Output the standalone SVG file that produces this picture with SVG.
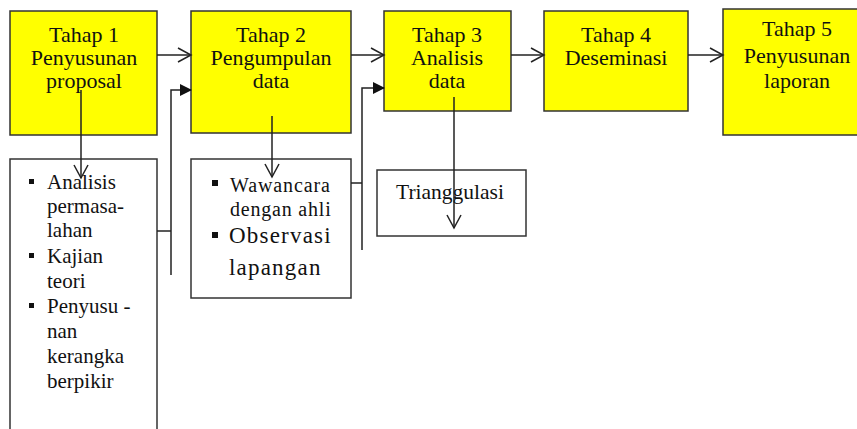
<svg xmlns="http://www.w3.org/2000/svg" width="857" height="429" viewBox="0 0 857 429">
<defs>
<style>
.stage{fill:#ffff00;stroke:#333;stroke-width:1.5}
.box{fill:#fff;stroke:#333;stroke-width:1.5}
.t{font-family:'Liberation Serif','Times New Roman','DejaVu Serif',serif;font-size:21px;fill:#111}
.h{font-size:22px}
.c{text-anchor:middle}
.ln{fill:none;stroke:#222;stroke-width:1.5}
.bul{fill:#111}
</style>
<marker id="open" markerWidth="16" markerHeight="16" refX="14" refY="8" orient="auto" markerUnits="userSpaceOnUse">
<path d="M1,1 L14,8 L1,15" fill="none" stroke="#222" stroke-width="1.5"/>
</marker>
<marker id="fill" markerWidth="14" markerHeight="14" refX="12" refY="7" orient="auto" markerUnits="userSpaceOnUse">
<path d="M1,1 L13,7 L1,13 Z" fill="#111"/>
</marker>
</defs>
<g id="stage1"><rect class="stage" x="10" y="11" width="147" height="124"/>
<text class="t h c" x="84" y="42">Tahap 1</text><text class="t h c" x="84" y="65">Penyusunan</text><text class="t h c" x="84" y="88">proposal</text></g>
<g id="stage2"><rect class="stage" x="191" y="11" width="160" height="122"/>
<text class="t h c" x="271" y="42">Tahap 2</text><text class="t h c" x="271" y="65">Pengumpulan</text><text class="t h c" x="271" y="88">data</text></g>
<g id="stage3"><rect class="stage" x="384" y="11" width="127" height="100"/>
<text class="t h c" x="447" y="42">Tahap 3</text><text class="t h c" x="447" y="65">Analisis</text><text class="t h c" x="447" y="88">data</text></g>
<g id="stage4"><rect class="stage" x="544" y="11" width="144" height="100"/>
<text class="t h c" x="616" y="42">Tahap 4</text><text class="t h c" x="616" y="65">Deseminasi</text></g>
<g id="stage5"><rect class="stage" x="723" y="9" width="150" height="126"/>
<text class="t h c" x="797" y="36">Tahap 5</text><text class="t h c" x="797" y="63">Penyusunan</text><text class="t h c" x="797" y="88">laporan</text></g>
<g id="detail1"><path class="box" d="M10,431 L10,159 L157,159 L157,431"/>
<rect class="bul" x="29" y="179" width="5" height="5"/>
<rect class="bul" x="29" y="253" width="5" height="5"/>
<rect class="bul" x="29" y="303" width="5" height="5"/>
<text class="t" x="47" y="189">Analisis</text><text class="t" x="47" y="213">permasa-</text><text class="t" x="47" y="237">lahan</text>
<text class="t" x="47" y="263">Kajian</text><text class="t" x="47" y="288">teori</text>
<text class="t" x="47" y="313">Penyusu -</text><text class="t" x="47" y="338">nan</text><text class="t" x="47" y="363">kerangka</text><text class="t" x="47" y="388">berpikir</text></g>
<g id="detail2"><rect class="box" x="191" y="159" width="160" height="139"/>
<rect class="bul" x="212" y="180" width="6" height="6"/>
<rect class="bul" x="212" y="232" width="6" height="6"/>
<text class="t" x="230" y="192" style="font-size:20px;letter-spacing:0.9px">Wawancara</text>
<text class="t" x="230" y="216" style="font-size:20px;letter-spacing:0.8px">dengan ahli</text>
<text class="t" x="229" y="243" style="font-size:23px;letter-spacing:1.2px">Observasi</text>
<text class="t" x="229" y="275" style="font-size:23px;letter-spacing:1.2px">lapangan</text></g>
<g id="detail3"><rect class="box" x="377" y="170" width="149" height="66"/>
<text class="t c" x="450" y="199" style="font-size:21.5px">Trianggulasi</text></g>
<g id="connectors">
<line class="ln" x1="157" y1="55" x2="191" y2="55" marker-end="url(#open)"/>
<line class="ln" x1="351" y1="55" x2="384" y2="55" marker-end="url(#open)"/>
<line class="ln" x1="511" y1="55" x2="544" y2="55" marker-end="url(#open)"/>
<line class="ln" x1="688" y1="55" x2="723" y2="55" marker-end="url(#open)"/>
<line class="ln" x1="81" y1="90" x2="81" y2="178" marker-end="url(#open)"/>
<line class="ln" x1="272" y1="116" x2="272" y2="177" marker-end="url(#open)"/>
<line class="ln" x1="454" y1="97" x2="454" y2="228" marker-end="url(#open)"/>
<path class="ln" d="M157,231 L171,231"/>
<path class="ln" d="M171,275 L171,90 L191,90" marker-end="url(#fill)"/>
<path class="ln" d="M351,183 L362,183"/>
<path class="ln" d="M362,250 L362,88 L384,88" marker-end="url(#fill)"/>
</g>
</svg>
